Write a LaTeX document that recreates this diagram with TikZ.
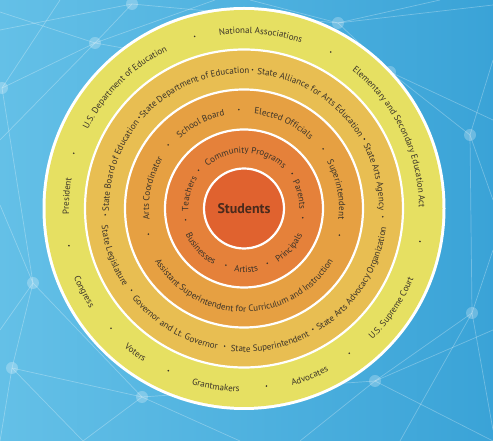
\documentclass[tikz,border=0pt]{standalone}
\usepackage{fontspec}
\setmainfont{PT Sans}
\usetikzlibrary{decorations.text}
\definecolor{bgL}{HTML}{64C0E7}
\definecolor{bgR}{HTML}{3AA3D7}
\definecolor{ringA}{HTML}{E0622F}
\definecolor{ringB}{HTML}{E5813A}
\definecolor{ringC}{HTML}{E6A042}
\definecolor{ringD}{HTML}{E8BE52}
\definecolor{ringE}{HTML}{E6E062}
\definecolor{txt}{HTML}{3B3328}
\definecolor{stxt}{HTML}{4A2A1C}
\newcommand\lblfont{\fontsize{9}{10}\selectfont}
\newcommand\toplbl[3]{%
  \path[decorate,decoration={text along path,text align=center,text color=txt,text={|\lblfont|#3}}]
  (#2+80:#1) arc[start angle=#2+80,end angle=#2-80,radius=#1];}
\newcommand\botlbl[3]{%
  \path[decorate,decoration={text along path,text align=center,text color=txt,text={|\lblfont|#3}}]
  (#2-80:#1) arc[start angle=#2-80,end angle=#2+80,radius=#1];}
\newcommand\ringdot[2]{\fill[txt] (#2:#1) circle[radius=0.9];}
\tikzset{
  netline/.style={white,opacity=0.28,line width=0.7},
  netnode/.style={white,opacity=0.25},
  ringsep/.style={draw=white,line width=2.2}
}
\begin{document}
\begin{tikzpicture}[x=1pt,y=1pt]
\useasboundingbox (0,0) rectangle (493,441);
\shade[left color=bgL,right color=bgR] (0,0) rectangle (493,441);
% background network (image coordinates)
\begin{scope}[shift={(0,441)},yscale=-1]
  \coordinate (n1) at (132,4);
  \coordinate (n2) at (95,43);
  \coordinate (n3) at (2,88);
  \coordinate (n4) at (33,283);
  \coordinate (n5) at (12,368);
  \coordinate (n6) at (142,397);
  \coordinate (n7) at (375,381);
  \coordinate (n8) at (472,313);
  \coordinate (n9) at (470,135);
  \coordinate (n10) at (390,72);
  \coordinate (n11) at (338,23);
  \coordinate (n12) at (83,441);
  \draw[netline] (n2) -- (0,12);
  \draw[netline] (n2) -- (0,140);
  \draw[netline] (n2) -- (n1);
  \draw[netline] (n2) -- (215,0);
  \draw[netline] (n2) -- (n3);
  \draw[netline] (n2) -- (190,60);
  \draw[netline] (n1) -- (0,30);
  \draw[netline] (n1) -- (n11);
  \draw[netline] (n3) -- (60,0);
  \draw[netline] (n3) -- (n4);
  \draw[netline] (n4) -- (n5);
  \draw[netline] (n4) -- (0,205);
  \draw[netline] (n4) -- (n6);
  \draw[netline] (n4) -- (0,330);
  \draw[netline] (n5) -- (n6);
  \draw[netline] (n5) -- (0,441);
  \draw[netline] (n5) -- (n12);
  \draw[netline] (n6) -- (n12);
  \draw[netline] (n6) -- (240,441);
  \draw[netline] (n6) -- (n7);
  \draw[netline] (n7) -- (n8);
  \draw[netline] (n7) -- (493,441);
  \draw[netline] (n7) -- (300,441);
  \draw[netline] (n7) -- (493,330);
  \draw[netline] (n8) -- (n9);
  \draw[netline] (n8) -- (493,250);
  \draw[netline] (n8) -- (493,430);
  \draw[netline] (n8) -- (400,441);
  \draw[netline] (n9) -- (n10);
  \draw[netline] (n9) -- (493,60);
  \draw[netline] (n9) -- (493,200);
  \draw[netline] (n10) -- (n11);
  \draw[netline] (n10) -- (493,120);
  \draw[netline] (n11) -- (493,5);
  \draw[netline] (n11) -- (250,0);
  \draw[netline] (n11) -- (440,0);
  \foreach \n in {n1,n2,n3,n4,n5,n6,n7,n8,n9,n10,n11}
    \fill[netnode] (\n) circle[radius=6];
\end{scope}
\begin{scope}[shift={(244,232.5)}]
  % rings
  \fill[white] (0,0) circle[radius=201.5];
  \fill[ringE] (0,0) circle[radius=198.5];
  \filldraw[ringsep,fill=ringD] (0,0) circle[radius=159];
  \filldraw[ringsep,fill=ringC] (0,0) circle[radius=119];
  \filldraw[ringsep,fill=ringB] (0,0) circle[radius=79];
  \filldraw[ringsep,fill=ringA] (0,0) circle[radius=40];
  \node[font=\fontsize{14}{16}\selectfont\bfseries,text=stxt] (students) at (0,0) {Students};
  % ring 5
  \toplbl{175}{84.5}{National Associations}
  \toplbl{175}{26}{Elementary and Secondary Education Act}
  \toplbl{175}{176}{President}
  \toplbl{175}{134.5}{U.S. Department of Education}
  \botlbl{183.5}{-34}{U.S. Supreme Court}
  \botlbl{183.5}{-68.6}{Advocates}
  \botlbl{183.5}{-99}{Grantmakers}
  \botlbl{183.5}{-127}{Voters}
  \botlbl{183.5}{-152.5}{Congress}
  \foreach \a in {106,61,-10.6,-54,-82.8,-115,-138,-168,162} {\ringdot{179}{\a}}
  % ring 4
  \toplbl{135}{161}{State Board of Education}
  \toplbl{135}{113}{State Department of Education}
  \toplbl{135}{58}{State Alliance for Arts Education}
  \toplbl{135}{13.6}{State Arts Agency}
  \botlbl{143.5}{-160}{State Legislature}
  \botlbl{143.5}{-121}{Governor and Lt. Governor}
  \botlbl{143.5}{-79}{State Superintendent}
  \botlbl{143.5}{-33}{State Arts Advocacy Organization}
  \foreach \a in {182.6,139,86.5,30,-3.4,-144,-98,-60.3} {\ringdot{139}{\a}}
  % ring 3
  \toplbl{95}{167.5}{Arts Coordinator}
  \toplbl{95}{117}{School Board}
  \toplbl{95}{65}{Elected Officials}
  \toplbl{95}{11.5}{Superintendent}
  \botlbl{103.5}{-90}{Assistant Superintendent for Curriculum and Instruction}
  \foreach \a in {195,140,93,37,-15.6} {\ringdot{99}{\a}}
  % ring 2
  \toplbl{55.5}{165}{Teachers}
  \toplbl{55.5}{88}{Community Programs}
  \toplbl{55.5}{14}{Parents}
  \botlbl{64}{-137}{Businesses}
  \botlbl{64}{-88}{Artists}
  \botlbl{64}{-41}{Principals}
  \foreach \a in {191,140,36,-9,-107.7,-67} {\ringdot{59.5}{\a}}
\end{scope}
\end{tikzpicture}
\end{document}
